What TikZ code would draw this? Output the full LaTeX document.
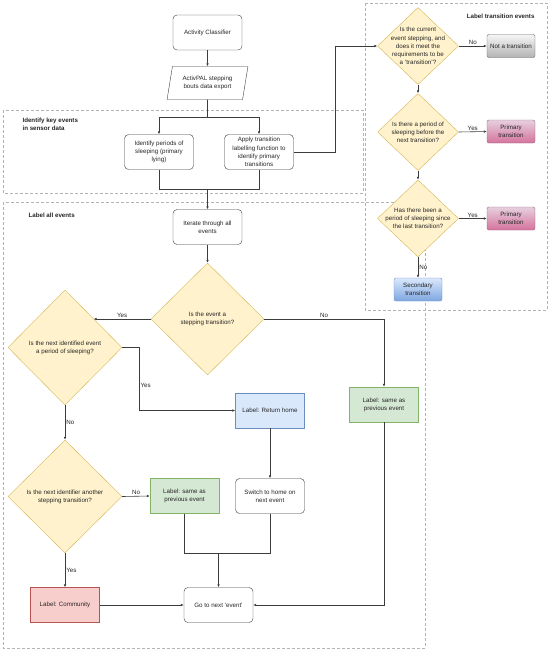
\documentclass[tikz,border=0pt]{standalone}
\usepackage{fontspec}
\setmainfont{Liberation Sans}
\usetikzlibrary{arrows.meta,shapes.geometric}
\definecolor{linegray}{HTML}{3C3C3C}
\definecolor{grpgray}{HTML}{B3B3B3}
\definecolor{ylwfill}{HTML}{FFF2CC}
\definecolor{ylwline}{HTML}{D6B656}
\definecolor{grnfill}{HTML}{D5E8D4}
\definecolor{grnline}{HTML}{82B366}
\definecolor{bluefill}{HTML}{DAE8FC}
\definecolor{blueline}{HTML}{6C8EBF}
\definecolor{bluedeep}{HTML}{7EA6E0}
\definecolor{redfill}{HTML}{F8CECC}
\definecolor{redline}{HTML}{B85450}
\definecolor{graytop}{HTML}{F5F5F5}
\definecolor{graybot}{HTML}{B3B3B3}
\definecolor{grayline}{HTML}{666666}
\definecolor{pinktop}{HTML}{E6D0DE}
\definecolor{pinkbot}{HTML}{D5739D}
\definecolor{pinkline}{HTML}{996185}
\tikzset{
  txt/.style={font=\fontsize{6.2}{8.2}\selectfont, align=center, text=black!85},
  proc/.style={txt, draw=linegray, rounded corners=4pt, fill=white,
    minimum width=69pt, minimum height=35pt, inner sep=1pt},
  io/.style={txt, draw=linegray, trapezium, trapezium left angle=76,
    trapezium right angle=104, trapezium stretches=true,
    minimum width=81pt, minimum height=33pt, inner sep=1pt},
  flat/.style={txt, minimum width=69pt, minimum height=35pt, inner sep=1pt},
  shade/.style={txt, rounded corners=2pt, minimum width=48pt,
    minimum height=23pt, inner sep=1pt},
  decision/.style={diamond, draw=ylwline, fill=ylwfill, inner sep=0pt},
  group/.style={draw=grpgray, dash pattern=on 3pt off 2pt},
  grouplabel/.style={txt, font=\fontsize{6.2}{8.2}\selectfont\bfseries, align=left},
  flow/.style={draw=linegray, line width=0.6pt, -{Latex[length=3pt,width=2.6pt]}},
  link/.style={draw=linegray, line width=0.6pt},
  tag/.style={txt, inner sep=1pt}
}
\begin{document}
\begin{tikzpicture}[x=1pt,y=-1pt]
  \useasboundingbox (0,0) rectangle (550,651);
  % group frames
  \draw[group] (3,110) rectangle (363,193);
  \draw[group] (365,3) rectangle (547,310);
  \draw[group] (3,202) rectangle (425,648);
  \node[grouplabel, anchor=north west] (keylbl) at (19,114) {Identify key events\\in sensor data};
  \node[grouplabel, anchor=north east] (translbl) at (538,10) {Label transition events};
  \node[grouplabel, anchor=north west] (alllbl) at (25,209) {Label all events};

  % top chain
  \node[proc] (classifier) at (207.5,32.5) {Activity Classifier};
  \node[io] (export) at (207.5,83) {ActivPAL stepping\\bouts data export};
  \node[proc] (sleeping) at (159,152) {Identify periods of\\sleeping (primary\\lying)};
  \node[proc] (apply) at (259,152) {Apply transition\\labelling function to\\identify primary\\transitions};
  \node[proc] (iterate) at (207.5,227) {Iterate through all\\events};

  % label transition events
  \node[decision, minimum width=81pt, minimum height=77pt] (qstep) at (418,46) {};
  \node[txt] (qsteptxt) at (qstep) {Is the current\\event stepping, and\\does it meet the\\requirements to be\\a 'transition'?};
  \node[decision, minimum width=81pt, minimum height=77pt] (qbefore) at (418,132) {};
  \node[txt] (qbeforetxt) at (qbefore) {Is there a period of\\sleeping before the\\next transition?};
  \node[decision, minimum width=81pt, minimum height=77pt] (qsince) at (418,218.5) {};
  \node[txt] (qsincetxt) at (qsince) {Has there been a\\period of sleeping since\\the last transition?};
  \node[shade, draw=grayline, top color=graytop, bottom color=graybot] (nottrans) at (511,46) {Not a transition};
  \node[shade, draw=pinkline, top color=pinktop, bottom color=pinkbot] (prim1) at (511,131.5) {Primary\\transition};
  \node[shade, draw=pinkline, top color=pinktop, bottom color=pinkbot] (prim2) at (511,218.5) {Primary\\transition};
  \node[shade, draw=blueline, top color=bluefill, bottom color=bluedeep] (second) at (418,289.5) {Secondary\\transition};

  % label all events
  \node[decision, minimum width=113pt, minimum height=112pt] (qevent) at (207.5,319) {};
  \node[txt] (qeventtxt) at (qevent) {Is the event a\\stepping transition?};
  \node[decision, minimum width=114pt, minimum height=115pt] (qnext) at (65,347.5) {};
  \node[txt] (qnexttxt) at (qnext) {Is the next identified event\\a period of sleeping?};
  \node[decision, minimum width=114pt, minimum height=113pt] (qanother) at (65,496.5) {};
  \node[txt] (qanothertxt) at (qanother) {Is the next identifier another\\stepping transition?};
  \node[flat, draw=grnline, fill=grnfill] (samea) at (384,404.5) {Label: same as\\previous event};
  \node[flat, draw=blueline, fill=bluefill] (home) at (270,410.5) {Label: Return home};
  \node[flat, draw=grnline, fill=grnfill] (sameb) at (184.5,496) {Label: same as\\previous event};
  \node[proc] (switch) at (270,496) {Switch to home on\\next event};
  \node[flat, draw=redline, fill=redfill] (community) at (65,605) {Label: Community};
  \node[proc] (nextev) at (218.5,605) {Go to next 'event'};

  % connectors
  \draw[flow] (classifier) -- (export);
  \coordinate (split) at (207.5,117);
  \draw[link] (export.south) -- (split);
  \draw[flow] (split) -| (sleeping.north);
  \draw[flow] (split) -| (apply.north);
  \coordinate (merge) at (207.5,189);
  \draw[link] (sleeping.south) |- (merge);
  \draw[link] (apply.south) |- (merge);
  \draw[flow] (merge) -- (iterate.north);
  \draw[flow] (apply.east) -- ++(42,0) |- (qstep.west);

  \draw[flow] (qstep.east) -- node[tag, above] {No} (nottrans.west);
  \draw[flow] (qstep.south) -- (qbefore.north);
  \draw[flow] (qbefore.east) -- node[tag, above] {Yes} (prim1.west);
  \draw[flow] (qbefore.south) -- (qsince.north);
  \draw[flow] (qsince.east) -- node[tag, above] {Yes} (prim2.west);
  \draw[flow] (qsince.south) -- node[tag, right] {No} (second.north);

  \draw[flow] (iterate) -- (qevent.north);
  \draw[flow] (qevent.west) -- node[tag, above] {Yes} (qevent.west -| qnext.north east);
  \draw[flow] (qevent.east) -- node[tag, above] {No} (qevent.east -| samea.north) -- (samea.north);
  \draw[flow] (qnext.east) -- ++(17,0) |- node[tag, right, pos=0.3] {Yes} (home.west);
  \draw[flow] (qnext.south) -- node[tag, right] {No} (qanother.north);
  \draw[flow] (qanother.east) -- node[tag, above] {No} (sameb.west);
  \draw[flow] (qanother.south) -- node[tag, right] {Yes} (community.north);
  \draw[flow] (home) -- (switch);
  \coordinate (join) at (218.5,553);
  \draw[link] (sameb.south) |- (join);
  \draw[link] (switch.south) |- (join);
  \draw[flow] (join) -- (nextev.north);
  \draw[flow] (community) -- (nextev);
  \draw[flow] (samea.south) |- (nextev.east);
\end{tikzpicture}
\end{document}
